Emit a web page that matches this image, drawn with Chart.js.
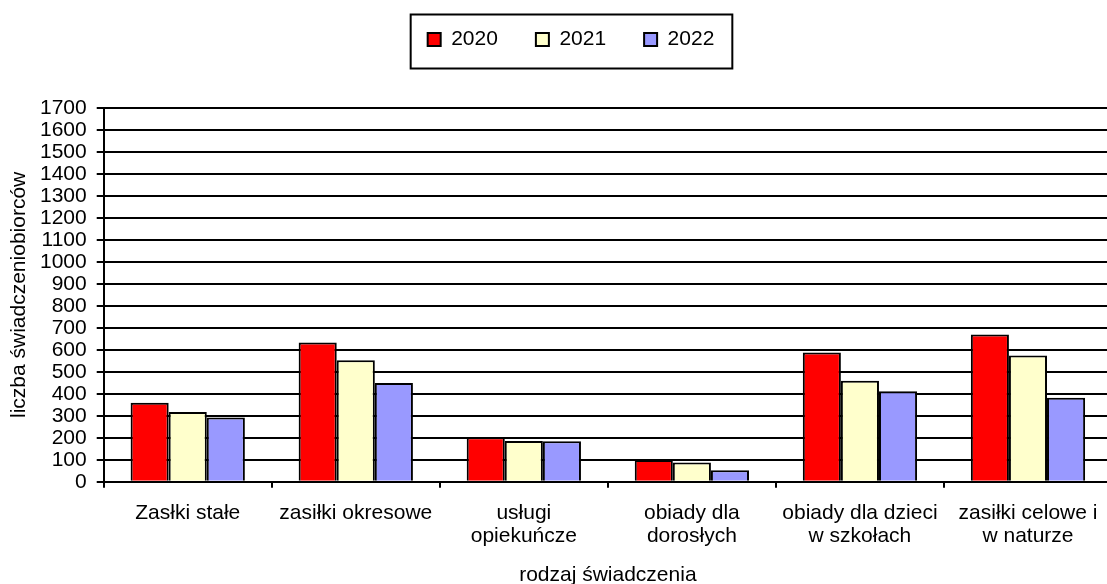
<!DOCTYPE html>
<html>
<head>
<meta charset="utf-8">
<script src="https://cdn.jsdelivr.net/npm/chart.js@4"></script>
<style>
html,body{margin:0;padding:0;background:#fff;overflow:hidden;}
#wrap{position:absolute;left:0;top:0;width:1142px;height:587px;}
</style>
</head>
<body>
<div id="wrap"><canvas id="c" width="1142" height="587" style="width:1142px;height:587px"></canvas></div>
<script>
const categories = [
  "Zasłki stałe",
  "zasiłki okresowe",
  ["usługi", "opiekuńcze"],
  ["obiady dla", "dorosłych"],
  ["obiady dla dzieci", "w szkołach"],
  ["zasiłki celowe i", "w naturze"]
];
const seriesNames = ["2020", "2021", "2022"];
const values2020 = [360, 633, 203, 99, 588, 670];
const values2021 = [318, 553, 185, 88, 460, 574];
const values2022 = [292, 449, 184, 53, 412, 382];
const seriesColors = ["#FF0000", "#FFFFCC", "#9999FF"];
const yTickMax = 1700;
const yTickStep = 100;
const yTitle = "liczba świadczeniobiorców";
const xTitle = "rodzaj świadczenia";

const FONT = "'Liberation Sans', Arial, sans-serif";
const FS = 21;
Chart.defaults.font.family = FONT;
Chart.defaults.font.size = FS;
Chart.defaults.color = "#000";

const LEG_PAD = 38;
const legendBorder = {
  id: "legendBorder",
  afterLayout(chart) {
    const lg = chart.legend;
    lg.left += 15; lg.right += 15;
    lg.top -= 48; lg.bottom -= 48;
    if (lg.adjustHitBoxes) lg.adjustHitBoxes();
  },
  afterDraw(chart) {
    const lg = chart.legend;
    const hb = lg.legendHitBoxes;
    if (!hb || !hb.length) return;
    const first = hb[0], last = hb[hb.length - 1];
    const ctx = chart.ctx;
    const cy = lg.top + LEG_PAD + Math.max(FS, 13) / 2;
    ctx.save();
    ctx.strokeStyle = "#000";
    ctx.lineWidth = 2;
    const l = first.left - 17, r = last.left + last.width + 18;
    ctx.strokeRect(l, cy - 25, r - l, 54);
    ctx.restore();
  }
};

new Chart(document.getElementById("c"), {
  type: "bar",
  data: {
    labels: categories,
    datasets: [values2020, values2021, values2022].map((v, i) => ({
      label: seriesNames[i],
      data: v,
      backgroundColor: seriesColors[i],
      borderColor: "#000",
      borderWidth: 2,
      borderSkipped: "bottom",
      categoryPercentage: 0.68,
      barPercentage: 1.0
    }))
  },
  options: {
    responsive: false,
    animation: false,
    layout: { padding: { top: 39, right: 30, left: 0, bottom: 0 } },
    plugins: {
      legend: {
        position: "top",
        labels: {
          boxWidth: 13, boxHeight: 13, padding: LEG_PAD,
          font: { size: FS, family: FONT }, color: "#000"
        }
      },
      tooltip: { enabled: false }
    },
    scales: {
      x: {
        grid: { display: true, drawOnChartArea: false, drawTicks: true, tickLength: 6, color: "#000", lineWidth: 2 },
        border: { display: true, color: "#000", width: 2 },
        ticks: { maxRotation: 0, minRotation: 0, autoSkip: false, padding: 14, color: "#000",
                 font: { size: FS, family: FONT, lineHeight: 1.1 } },
        title: { display: true, text: xTitle, color: "#000", font: { size: FS, family: FONT, lineHeight: 1 }, padding: { top: 3, bottom: 1 } }
      },
      y: {
        min: 0, max: yTickMax,
        grid: { color: "#000", lineWidth: 2, tickLength: 7, drawTicks: true },
        border: { display: true, color: "#000", width: 2 },
        ticks: { stepSize: yTickStep, autoSkip: false, padding: 10, color: "#000",
                 font: { size: FS, family: FONT, lineHeight: 1 },
                 callback: (v) => String(v) },
        title: { display: true, text: yTitle, color: "#000", font: { size: FS, family: FONT, lineHeight: 1 }, padding: { top: 9, bottom: 0 } }
      }
    }
  },
  plugins: [legendBorder]
});
</script>
</body>
</html>
